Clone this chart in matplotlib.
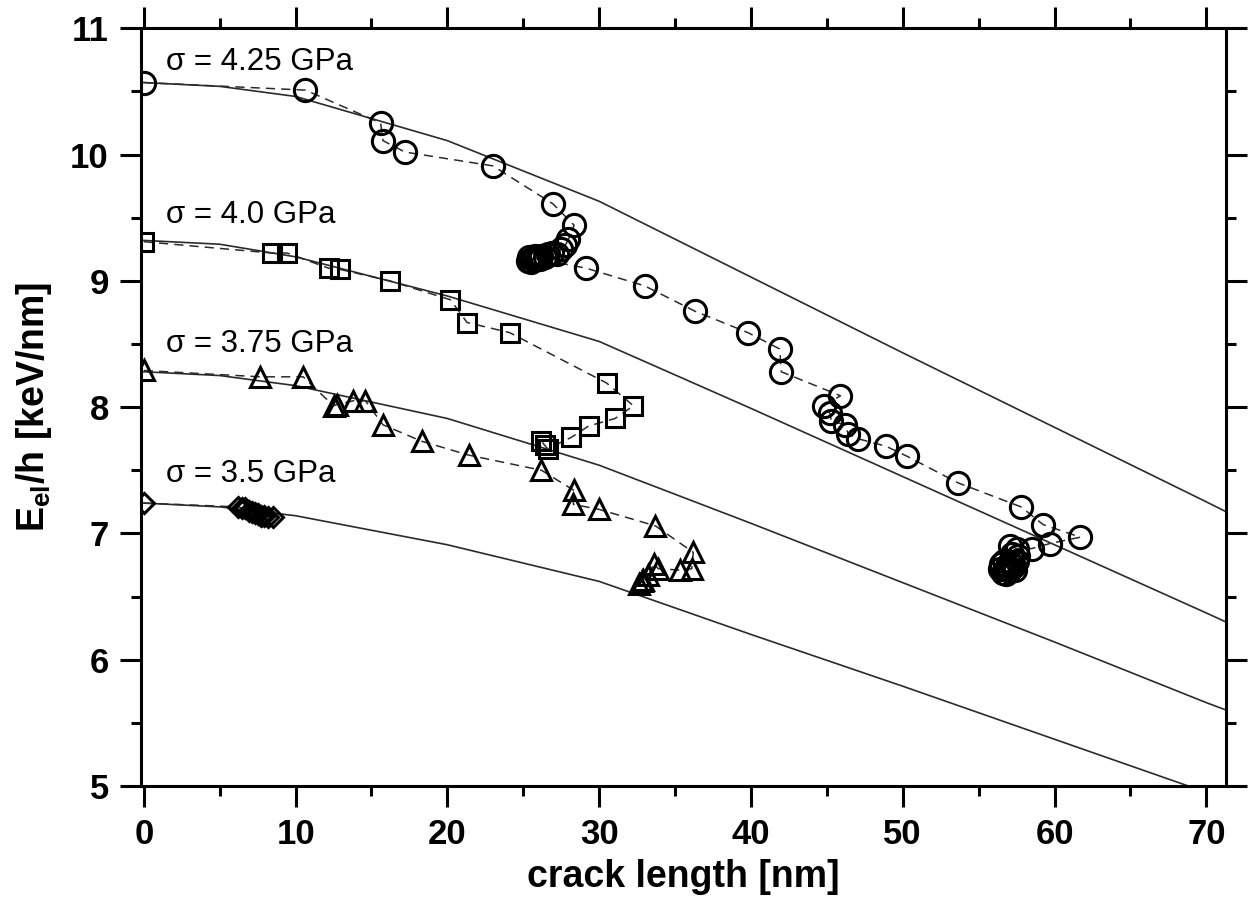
import numpy as np
import matplotlib
matplotlib.use("Agg")
import matplotlib.pyplot as plt
from matplotlib.ticker import MultipleLocator

# ── STYLE ─────────────────────────────────────────────────────────────────────
plt.rcParams.update({
    "font.family": ["Liberation Sans", "DejaVu Sans"],
    "mathtext.fontset": "custom",
    "mathtext.bf": "Liberation Sans:bold",
    "mathtext.rm": "Liberation Sans:bold",
    "axes.linewidth": 2.2,
})
LINE = "#2b2b2b"
INK = "black"

# ── DATA ──────────────────────────────────────────────────────────────────────
# theory curves (solid), sampled at these crack lengths
curve_x = [0, 5, 10, 20, 30, 40, 50, 60, 70, 72]
curve_425 = [10.57, 10.54, 10.46, 10.11, 9.63, 9.03, 8.43, 7.84, 7.25, 7.13]
curve_400 = [9.32, 9.29, 9.19, 8.88, 8.52, 7.99, 7.45, 6.91, 6.37, 6.26]
curve_375 = [8.28, 8.25, 8.17, 7.91, 7.54, 7.08, 6.61, 6.14, 5.66, 5.57]
curve_350 = [7.24, 7.21, 7.14, 6.91, 6.62, 6.20, 5.79, 5.37, 4.95, 4.87]

# simulation points (dashed, in time order)
circ_x = [0.0, 10.65, 15.6, 15.76, 17.2, 23.0, 26.95, 28.35, 27.98, 27.76, 27.5,
          27.2, 26.9, 26.6, 26.4, 26.2, 26.0, 25.8, 25.6, 25.4, 25.3, 25.5,
          25.7, 26.1, 29.15, 33.0, 36.3,
          39.8, 41.9, 42.0, 45.9, 44.8, 45.2, 45.3, 46.2, 46.4, 47.05, 48.9,
          50.3, 53.65, 57.8, 59.25, 61.7, 59.7, 58.5, 57.5, 57.1, 57.6, 57.2,
          57.5, 57.3, 57.1, 56.8, 56.6, 56.5, 56.4, 57.0, 56.9, 56.7, 57.4,
          57.2, 56.8]
circ_y = [10.57, 10.51, 10.25, 10.11, 10.02, 9.91, 9.61, 9.44, 9.33, 9.28, 9.25,
          9.21, 9.22, 9.21, 9.19, 9.20, 9.19, 9.20, 9.17, 9.19, 9.16, 9.15,
          9.18, 9.17, 9.10, 8.96, 8.76,
          8.59, 8.46, 8.28, 8.09, 8.01, 7.95, 7.89, 7.86, 7.79, 7.75, 7.69,
          7.61, 7.40, 7.21, 7.07, 6.97, 6.92, 6.88, 6.88, 6.90, 6.82, 6.84,
          6.78, 6.74, 6.77, 6.72, 6.69, 6.76, 6.72, 6.70, 6.74, 6.78, 6.71,
          6.75, 6.68]

sq_x = [0.0, 8.45, 9.44, 12.18, 12.95, 16.2, 20.2, 21.3, 24.1, 30.5, 32.26,
        31.05, 29.3, 28.16, 26.6, 26.4, 26.2]
sq_y = [9.31, 9.22, 9.22, 9.10, 9.09, 9.00, 8.85, 8.67, 8.59, 8.19, 8.01,
        7.91, 7.85, 7.76, 7.67, 7.70, 7.73]

tri_x = [0.0, 7.68, 10.5, 12.5, 12.7, 13.8, 14.6, 15.76, 18.3, 21.4, 26.2,
         28.35, 28.3, 30.0, 33.7, 36.2, 36.1, 35.3, 33.9, 33.6, 33.25, 32.9,
         32.6, 32.8]
tri_y = [8.29, 8.24, 8.24, 8.01, 8.02, 8.05, 8.05, 7.86, 7.73, 7.62, 7.50,
         7.34, 7.23, 7.19, 7.06, 6.85, 6.72, 6.71, 6.72, 6.76, 6.67, 6.63,
         6.60, 6.62]

dia_x = [0.0, 6.2, 6.5, 6.7, 6.9, 7.1, 7.3, 7.5, 7.7, 7.9, 8.2, 8.5]
dia_y = [7.24, 7.21, 7.20, 7.20, 7.18, 7.17, 7.16, 7.15, 7.14, 7.14, 7.13, 7.13]

labels = ["σ = 4.25 GPa", "σ = 4.0 GPa", "σ = 3.75 GPa", "σ = 3.5 GPa"]
label_y = [10.73, 9.52, 8.50, 7.47]

# ── PLOT ──────────────────────────────────────────────────────────────────────
fig = plt.figure(figsize=(12.49, 9), dpi=100)
ax = fig.add_axes([0.1127, 0.1267, 0.8689, 0.8419])

for cy in (curve_425, curve_400, curve_375, curve_350):
    ax.plot(curve_x, cy, color=LINE, linewidth=1.2, zorder=2)

dash = (0, (6, 4))
ax.plot(circ_x, circ_y, color=LINE, linewidth=1.1, linestyle=dash,
        marker="o", markersize=16, markerfacecolor="none",
        markeredgecolor=INK, markeredgewidth=2.2, zorder=3)
ax.plot(sq_x, sq_y, color=LINE, linewidth=1.1, linestyle=dash,
        marker="s", markersize=13, markerfacecolor="none",
        markeredgecolor=INK, markeredgewidth=2.2, zorder=3)
ax.plot(tri_x, tri_y, color=LINE, linewidth=1.1, linestyle=dash,
        marker="^", markersize=15, markerfacecolor="none",
        markeredgecolor=INK, markeredgewidth=2.2, zorder=3)
ax.plot(dia_x, dia_y, color=LINE, linewidth=1.1, linestyle=dash,
        marker="D", markersize=10.5, markerfacecolor="none",
        markeredgecolor=INK, markeredgewidth=2.2, zorder=3)

for txt, ty in zip(labels, label_y):
    ax.text(1.45, ty, txt, fontsize=22.5, ha="left", va="center")

# ── AXES ──────────────────────────────────────────────────────────────────────
ax.set_xlim(-0.2, 71.3)
ax.set_ylim(5, 11)
ax.xaxis.set_major_locator(MultipleLocator(10))
ax.xaxis.set_minor_locator(MultipleLocator(5))
ax.yaxis.set_major_locator(MultipleLocator(1))
ax.yaxis.set_minor_locator(MultipleLocator(0.5))
ax.tick_params(which="both", direction="out", top=True, right=True, width=2.2)
ax.tick_params(which="major", length=15, labelsize=25, pad=8)
ax.tick_params(which="minor", length=7.5)
for lab in ax.get_xticklabels() + ax.get_yticklabels():
    lab.set_fontweight("bold")

ax.set_xlabel("crack length [nm]", fontsize=27, fontweight="bold", labelpad=6)
ax.set_ylabel(r"$\mathbf{E_{el}}$/h [keV/nm]", fontsize=27, fontweight="bold",
              labelpad=12)

fig.savefig("out.png", dpi=100)
